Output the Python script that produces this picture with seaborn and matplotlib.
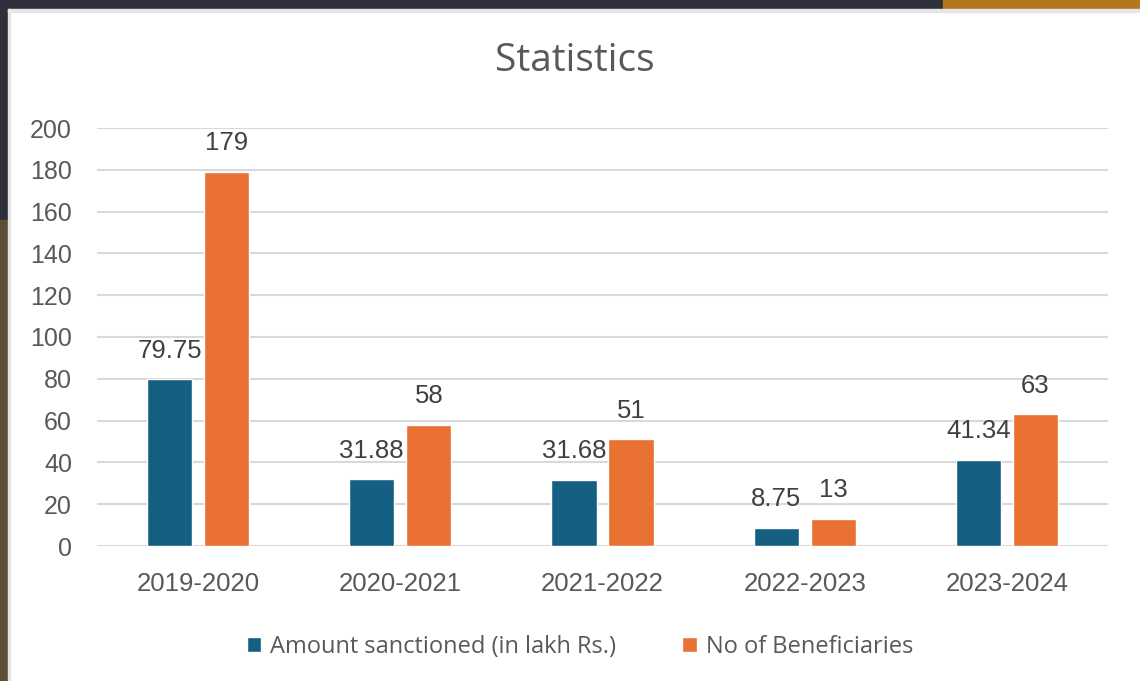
import pandas as pd
import matplotlib.pyplot as plt
import seaborn as sns
from matplotlib.patches import Rectangle

# chart data
years = ['2019-2020', '2020-2021', '2021-2022', '2022-2023', '2023-2024']
amount = [79.75, 31.88, 31.68, 8.75, 41.34]
beneficiaries = [179, 58, 51, 13, 63]
series_names = ['Amount sanctioned (in lakh Rs.)', 'No of Beneficiaries']
y_ticks = [0, 20, 40, 60, 80, 100, 120, 140, 160, 180, 200]

df = pd.DataFrame({
    'year': years * 2,
    'value': amount + beneficiaries,
    'series': [series_names[0]] * len(years) + [series_names[1]] * len(years),
})

sns.set_style('white')
plt.rcParams['font.family'] = ['Liberation Sans', 'DejaVu Sans']

W, H = 1140, 681
fig = plt.figure(figsize=(W / 100, H / 100), dpi=100)
fig.patch.set_facecolor('white')

# screenshot frame around the chart
fig.add_artist(Rectangle((0, 1 - 9 / H), 1, 9 / H, transform=fig.transFigure, color='#2e2f3a', zorder=0))
fig.add_artist(Rectangle((943 / W, 1 - 9 / H), 1, 9 / H, transform=fig.transFigure, color='#b5771e', zorder=0))
fig.add_artist(Rectangle((0, 1 - 220 / H), 8 / W, 220 / H, transform=fig.transFigure, color='#2e2f3a', zorder=0))
fig.add_artist(Rectangle((0, 0), 8 / W, 1 - 220 / H, transform=fig.transFigure, color='#5e4e35', zorder=0))
fig.add_artist(Rectangle((8 / W, 0), 2 / W, 1 - 9 / H, transform=fig.transFigure, color='#e4e4e4', zorder=0))
fig.add_artist(Rectangle((8 / W, 1 - 12 / H), 1, 3 / H, transform=fig.transFigure, color='#e6e6e6', zorder=0))

ax = fig.add_axes([97 / W, 1 - 546 / H, (1108 - 97) / W, (546 - 128) / H])
sns.barplot(data=df, x='year', y='value', hue='series',
            palette=['#156082', '#E97132'], width=0.564, gap=0.21,
            saturation=1, ax=ax, zorder=3)

ax.set_ylim(0, 200)
ax.set_yticks(y_ticks)
ax.set_xlabel('')
ax.set_ylabel('')
ax.grid(axis='y', color='#d9d9d9', linewidth=1.5, zorder=0)
ax.set_axisbelow(True)
for s in ax.spines.values():
    s.set_visible(False)
ax.tick_params(axis='y', length=0, pad=18, labelsize=18, labelcolor='#595959')
ax.tick_params(axis='x', length=0, pad=19, labelsize=18.5, labelcolor='#595959')

for container in ax.containers:
    ax.bar_label(container, labels=[f'{v:g}' for v in container.datavalues],
                 padding=12, fontsize=18.5, color='#404040')

handles, labels = ax.get_legend_handles_labels()
ax.get_legend().remove()
fig.legend(handles, labels, loc='center', bbox_to_anchor=(580 / W, 1 - 647 / H),
           ncol=2, frameon=False, handlelength=0.6, handleheight=0.6,
           handletextpad=0.4, columnspacing=2.8,
           prop={'family': 'Open Sans', 'size': 17}, labelcolor='#595959')

fig.text(575 / W, 1 - 61 / H, 'Statistics', ha='center', va='center',
         fontsize=28, color='#595959', family='Open Sans')

fig.savefig('out.png', dpi=100)
